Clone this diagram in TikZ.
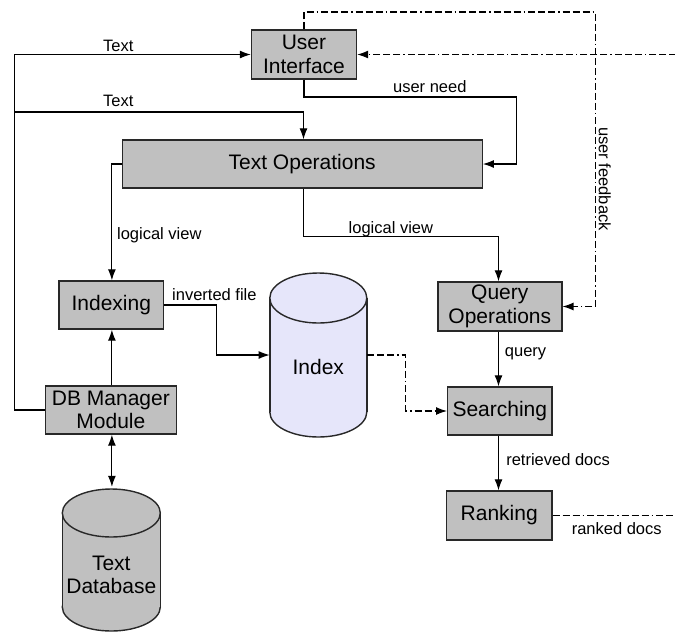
\documentclass[tikz,border=0pt]{standalone}
\usepackage{fontspec}
\setmainfont{Liberation Sans}
\usetikzlibrary{arrows.meta,calc}
\definecolor{boxgray}{RGB}{192,192,192}
\definecolor{idxfill}{RGB}{230,230,250}
\definecolor{edgegray}{RGB}{40,40,40}
\tikzset{
  box/.style={draw=edgegray, line width=1.4pt, fill=boxgray, inner sep=0pt, align=center,
    font=\fontsize{21}{23.5}\selectfont},
  lbl/.style={font=\fontsize{16.5}{18}\selectfont, inner sep=0pt},
  conn/.style={line width=1.1pt, draw=black},
  arr/.style={conn, -{Latex[length=11pt,width=8pt]}},
  arrboth/.style={conn, {Latex[length=11pt,width=8pt]}-{Latex[length=11pt,width=8pt]}},
  dd/.style={line width=1.1pt, dash pattern=on 7pt off 3pt on 7pt off 3pt on 7pt off 3pt on 1.5pt off 3pt},
  ddarr/.style={dd, -{Latex[length=11pt,width=8pt]}},
  cylarea/.style={inner sep=0pt, align=center, font=\fontsize{21}{22.5}\selectfont},
  cylline/.style={draw=edgegray, line width=1.4pt},
}
\begin{document}
\begin{tikzpicture}[x=1pt,y=1pt,yscale=-1]
\useasboundingbox (0,0) rectangle (675,633);

% Index cylinder
\fill[idxfill, cylline] (318.3,412) ellipse [x radius=48.5, y radius=25];
\fill[idxfill] (269.8,298) rectangle (366.8,412);
\draw[cylline] (269.8,298) -- (269.8,412) (366.8,298) -- (366.8,412);
\fill[idxfill, cylline] (318.3,298) ellipse [x radius=48.5, y radius=25];
% Text Database cylinder
\fill[boxgray, cylline] (111.3,607) ellipse [x radius=49, y radius=24];
\fill[boxgray] (62.3,513) rectangle (160.3,607);
\draw[cylline] (62.3,513) -- (62.3,607) (160.3,513) -- (160.3,607);
\fill[boxgray, cylline] (111.3,513) ellipse [x radius=49, y radius=24];

\node[cylarea, minimum width=97pt, minimum height=164pt] (index) at (318.3,355) {};
\node[cylarea] (indextxt) at (318.3,367) {Index};
\node[cylarea, minimum width=98pt, minimum height=146pt] (textdb) at (111.3,560) {};
\node[cylarea] (textdbtxt) at (111.3,575) {Text\\Database};

% boxes
\node[box, minimum width=105pt, minimum height=49pt] (ui) at (304,54.5) {User\\Interface};
\node[box, minimum width=360pt, minimum height=48pt] (textops) at (302.2,164) {Text Operations};
\node[box, minimum width=104.6pt, minimum height=48pt] (indexing) at (111.3,305) {Indexing};
\node[box, minimum width=124pt, minimum height=49pt] (query) at (499.8,306.5) {Query\\Operations};
\node[box, minimum width=104.2pt, minimum height=48pt] (searching) at (499.8,411) {Searching};
\node[box, minimum width=105.5pt, minimum height=49pt] (ranking) at (499.2,515.5) {Ranking};
\node[box, minimum width=131.3pt, minimum height=48pt] (db) at (110.9,410) {DB Manager\\Module};

% free ends
\coordinate (branch) at (14.2,112);
\coordinate (un) at (516.6,97);
\coordinate (fb) at (595.4,12);
\coordinate (uedge) at (676,54.5);
\coordinate (redge) at (676,515.5);

% solid connectors
\draw[arr] (db.west) -| (branch) |- (ui.west);
\draw[arr] (branch) -| ([xshift=-0.5pt]ui.south |- textops.north);
\draw[arr] (ui.south) |- (un) |- (textops.east);
\draw[arr] (textops.west) -| ([xshift=0.6pt]indexing.north);
\draw[arr] ([xshift=1.3pt]textops.south) -- ++(0,48) -| ([xshift=-1.3pt]query.north);
\draw[arr] (indexing.east) -- ++(52,0) |- (index.west);
\draw[arr] ([xshift=0.6pt]indexing.south |- db.north) -- ([xshift=0.6pt]indexing.south);
\draw[arrboth] ([xshift=0.6pt]indexing.south |- db.south) -- ([xshift=0.6pt]indexing.south |- textdb.north);
\draw[arr] ([xshift=-1.3pt]query.south) -- ([xshift=-1.3pt]query.south |- searching.north);
\draw[arr] ([xshift=-1.3pt]searching.south) -- ([xshift=-1.3pt]searching.south |- ranking.north);

% dashed connectors
\draw[ddarr] (index.east) -- ++(38.7,0) |- (searching.west);
\draw[ddarr] (uedge) -- (ui.east);
\draw[ddarr] (ui.north) |- (fb) |- (query.east);
\draw[dd] (ranking.east) -- (redge);

% labels
\node[lbl] (l1) at (118.2,46) {Text};
\node[lbl] (l2) at (118.2,101) {Text};
\node[lbl] (l3) at (429.8,87) {user need};
\node[lbl] (l4) at (159.3,235) {logical view};
\node[lbl] (l5) at (390.9,229) {logical view};
\node[lbl] (l6) at (214.4,295) {inverted file};
\node[lbl] (l7) at (525.6,354) {query};
\node[lbl] (l8) at (558.1,460) {retrieved docs};
\node[lbl] (l9) at (616.7,529) {ranked docs};
\node[lbl, rotate=-90] (l10) at (604.8,179) {user feedback};
\end{tikzpicture}
\end{document}
